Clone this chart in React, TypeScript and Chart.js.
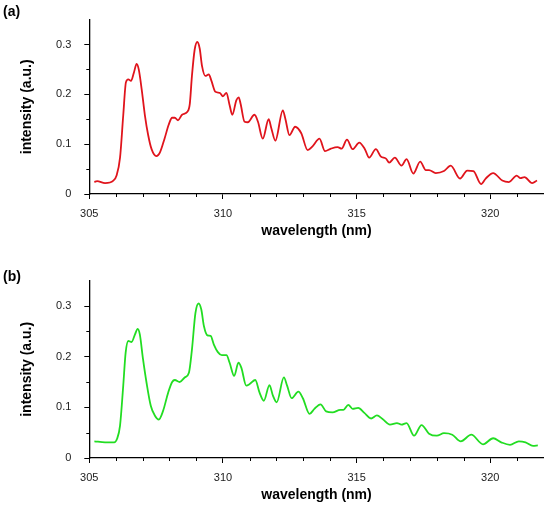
import React, { useEffect, useRef } from "react";
import { Chart, registerables } from "chart.js";

Chart.register(...registerables);

const FONT = '"Liberation Sans", Arial, Helvetica, sans-serif';

// ---- data ----
const waveA = [305.19, 305.29, 305.59, 305.90, 306.02, 306.15, 306.27, 306.37, 306.46, 306.56, 306.67, 306.77, 306.85, 306.96, 307.08, 307.20, 307.33, 307.51, 307.64, 307.82, 307.97, 308.10, 308.20, 308.32, 308.47, 308.67, 308.76, 308.84, 308.94, 309.04, 309.13, 309.22, 309.34, 309.47, 309.57, 309.72, 309.88, 310.00, 310.13, 310.25, 310.35, 310.50, 310.59, 310.66, 310.81, 310.93, 311.18, 311.31, 311.49, 311.71, 311.81, 311.96, 312.24, 312.33, 312.49, 312.70, 312.93, 313.17, 313.36, 313.61, 313.82, 314.04, 314.29, 314.44, 314.64, 314.85, 315.10, 315.31, 315.47, 315.72, 315.91, 316.10, 316.22, 316.43, 316.68, 316.87, 317.12, 317.38, 317.59, 317.71, 317.96, 318.27, 318.52, 318.87, 319.14, 319.37, 319.66, 319.83, 320.11, 320.45, 320.70, 320.99, 321.13, 321.28, 321.57, 321.75];
const intensityA = [0.024, 0.026, 0.022, 0.027, 0.037, 0.073, 0.158, 0.224, 0.230, 0.227, 0.244, 0.261, 0.250, 0.210, 0.158, 0.119, 0.090, 0.076, 0.083, 0.112, 0.139, 0.153, 0.153, 0.148, 0.159, 0.165, 0.181, 0.237, 0.289, 0.305, 0.292, 0.256, 0.237, 0.240, 0.227, 0.205, 0.203, 0.196, 0.203, 0.178, 0.159, 0.188, 0.194, 0.181, 0.145, 0.144, 0.159, 0.145, 0.111, 0.150, 0.132, 0.107, 0.168, 0.152, 0.118, 0.135, 0.122, 0.088, 0.096, 0.111, 0.086, 0.091, 0.094, 0.091, 0.109, 0.090, 0.103, 0.090, 0.073, 0.090, 0.075, 0.071, 0.063, 0.073, 0.057, 0.070, 0.041, 0.065, 0.048, 0.048, 0.042, 0.046, 0.057, 0.031, 0.047, 0.046, 0.020, 0.031, 0.042, 0.027, 0.024, 0.037, 0.032, 0.034, 0.022, 0.027];

const waveB = [305.19, 305.59, 305.93, 306.04, 306.15, 306.27, 306.36, 306.46, 306.58, 306.71, 306.81, 306.89, 307.01, 307.14, 307.30, 307.45, 307.60, 307.76, 307.95, 308.10, 308.20, 308.38, 308.57, 308.73, 308.84, 308.97, 309.09, 309.19, 309.29, 309.42, 309.54, 309.66, 309.81, 309.96, 310.13, 310.25, 310.42, 310.58, 310.69, 310.87, 311.00, 311.21, 311.37, 311.53, 311.74, 311.87, 312.01, 312.28, 312.40, 312.57, 312.82, 312.99, 313.24, 313.42, 313.65, 313.86, 314.10, 314.39, 314.51, 314.69, 314.85, 315.06, 315.29, 315.54, 315.76, 315.97, 316.25, 316.51, 316.68, 316.87, 317.15, 317.43, 317.71, 318.00, 318.27, 318.58, 318.90, 319.29, 319.73, 320.11, 320.41, 320.74, 321.07, 321.32, 321.60, 321.78];
const intensityB = [0.033, 0.031, 0.031, 0.038, 0.064, 0.143, 0.208, 0.231, 0.229, 0.244, 0.255, 0.244, 0.195, 0.149, 0.103, 0.084, 0.076, 0.093, 0.129, 0.150, 0.154, 0.150, 0.159, 0.169, 0.214, 0.286, 0.305, 0.293, 0.260, 0.242, 0.241, 0.224, 0.209, 0.203, 0.203, 0.188, 0.162, 0.188, 0.178, 0.143, 0.146, 0.154, 0.129, 0.113, 0.144, 0.123, 0.110, 0.159, 0.143, 0.118, 0.131, 0.118, 0.087, 0.097, 0.106, 0.092, 0.090, 0.095, 0.095, 0.105, 0.097, 0.099, 0.089, 0.078, 0.084, 0.077, 0.066, 0.069, 0.066, 0.069, 0.044, 0.065, 0.048, 0.044, 0.049, 0.046, 0.033, 0.046, 0.027, 0.039, 0.031, 0.026, 0.033, 0.031, 0.024, 0.025];

const xMajorTicks = [305, 310, 315, 320];
const xMinorTicks = [306, 307, 308, 309, 311, 312, 313, 314, 316, 317, 318, 319, 321];
const yMajorTicks = [0, 0.1, 0.2, 0.3];
const yMinorTicks = [0.05, 0.15, 0.25];
const xRange = [305, 322];
const yRange = [0, 0.35];

const xTitle = "wavelength (nm)";
const yTitle = "intensity (a.u.)";

const minorTickPlugin = {
  id: "minorTicks",
  afterDraw(chart: any) {
    const { ctx } = chart;
    const xs = chart.scales.x;
    const ys = chart.scales.y;
    ctx.save();
    ctx.strokeStyle = "#000";
    ctx.lineWidth = 1;
    ctx.beginPath();
    xMinorTicks.forEach((v) => {
      const px = Math.round(xs.getPixelForValue(v)) + 0.5;
      ctx.moveTo(px, xs.top);
      ctx.lineTo(px, xs.top + 3);
    });
    yMinorTicks.forEach((v) => {
      const py = Math.round(ys.getPixelForValue(v)) + 0.5;
      ctx.moveTo(ys.right, py);
      ctx.lineTo(ys.right - 3, py);
    });
    ctx.stroke();
    ctx.restore();
  },
};

type PanelProps = {
  label: string;
  waves: number[];
  values: number[];
  color: string;
  top: number;
  height: number;
  padTop: number;
  labelTop: number;
};

function Panel({ label, waves, values, color, top, height, padTop, labelTop }: PanelProps) {
  const ref = useRef<HTMLCanvasElement | null>(null);

  useEffect(() => {
    if (!ref.current) return;
    const chart = new Chart(ref.current, {
      type: "line",
      data: {
        datasets: [
          {
            data: waves.map((w, i) => ({ x: w, y: values[i] })),
            borderColor: color,
            borderWidth: 1.8,
            pointRadius: 0,
            cubicInterpolationMode: "monotone",
            fill: false,
          },
        ],
      },
      options: {
        animation: false,
        responsive: false,
        devicePixelRatio: 1,
        layout: { padding: { top: padTop, right: 6.3, bottom: 0, left: 0 } },
        plugins: { legend: { display: false }, tooltip: { enabled: false } },
        scales: {
          x: {
            type: "linear",
            min: xRange[0],
            max: xRange[1],
            afterBuildTicks: (axis: any) => {
              axis.ticks = xMajorTicks.map((v) => ({ value: v }));
            },
            afterFit: (axis: any) => {
              axis.height = 50;
            },
            ticks: {
              autoSkip: false,
              maxRotation: 0,
              padding: 8,
              color: "#222",
              font: { family: FONT, size: 11 },
              callback: (v: any) => String(v),
            },
            grid: {
              display: true,
              drawOnChartArea: false,
              drawTicks: true,
              tickLength: 5,
              tickColor: "#000",
              tickWidth: 1,
            },
            border: { display: true, color: "#000", width: 1.3 },
            title: {
              display: true,
              text: xTitle,
              color: "#000",
              font: { family: FONT, size: 14, weight: "bold" },
              padding: { top: 0, bottom: 4.3 },
            },
          },
          y: {
            type: "linear",
            min: yRange[0],
            max: yRange[1],
            afterBuildTicks: (axis: any) => {
              axis.ticks = yMajorTicks.map((v) => ({ value: v }));
            },
            afterFit: (axis: any) => {
              axis.width = 89.3;
            },
            ticks: {
              autoSkip: false,
              padding: 13,
              color: "#222",
              font: { family: FONT, size: 11 },
              callback: (v: any) => (v === 0 ? "0" : Number(v).toFixed(1)),
            },
            grid: {
              display: true,
              drawOnChartArea: false,
              drawTicks: true,
              tickLength: 5,
              tickColor: "#000",
              tickWidth: 1,
            },
            border: { display: true, color: "#000", width: 1.3 },
            title: {
              display: true,
              text: yTitle,
              color: "#000",
              font: { family: FONT, size: 14, weight: "bold" },
              padding: { top: 18.6, bottom: 0 },
            },
          },
        },
      },
      plugins: [minorTickPlugin],
    } as any);
    return () => chart.destroy();
  }, [waves, values, color, padTop]);

  return (
    <div style={{ position: "absolute", left: 0, top, width: 550, height }}>
      <canvas ref={ref} width={550} height={height} style={{ width: 550, height, display: "block" }} />
      <div
        style={{
          position: "absolute",
          left: 3,
          top: labelTop,
          fontFamily: FONT,
          fontWeight: "bold",
          fontSize: 14,
          lineHeight: "14px",
          color: "#000",
        }}
      >
        {label}
      </div>
    </div>
  );
}

export default function App() {
  return (
    <div style={{ position: "absolute", left: 0, top: 0, width: 550, height: 508, background: "#fff" }}>
      <Panel label="(a)" waves={waveA} values={intensityA} color="#e0141c" top={0} height={244} padTop={16} labelTop={4} />
      <Panel label="(b)" waves={waveB} values={intensityB} color="#22dd22" top={244} height={264} padTop={36.7} labelTop={25} />
    </div>
  );
}
